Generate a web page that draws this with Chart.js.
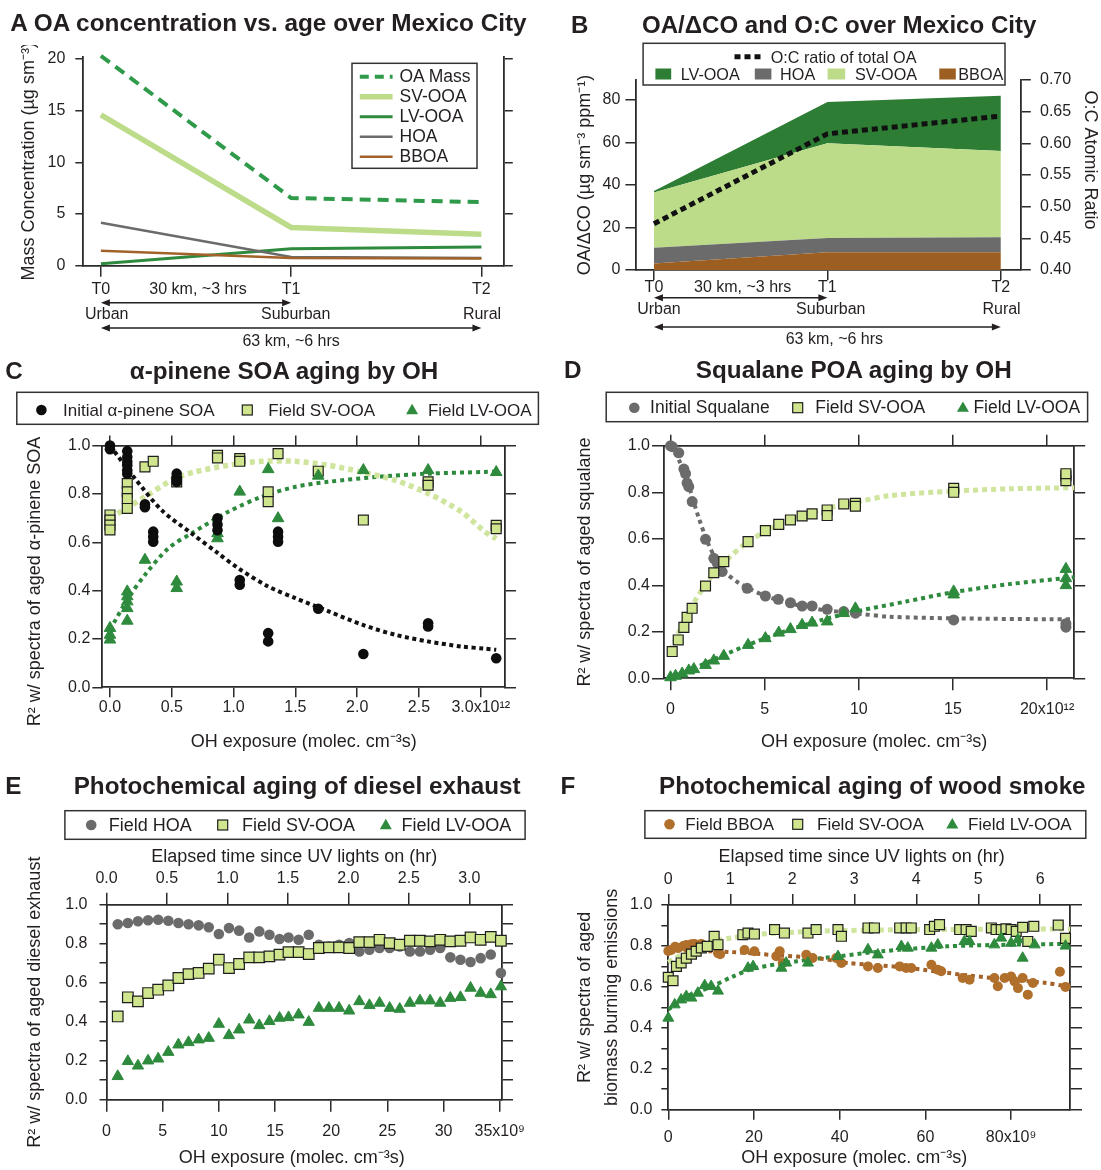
<!DOCTYPE html>
<html>
<head>
<meta charset="utf-8">
<title>Aging of organic aerosol</title>
<script src="https://cdn.jsdelivr.net/npm/chart.js@4.4.1/dist/chart.umd.min.js"></script>
<style>
  html, body { margin: 0; padding: 0; background: #ffffff; }
  #page { position: relative; width: 1101px; height: 1170px; overflow: hidden; background: #ffffff;
          font-family: 'Liberation Sans', Arial, Helvetica, sans-serif; color: #231f20; }
  #page canvas { position: absolute; z-index: 1; }
  #marks { position: absolute; left: 0; top: 0; z-index: 2; }
  .t { position: absolute; white-space: pre; line-height: 1; z-index: 3; }
</style>
</head>
<body>
<div id="page"></div>
<script>
// ---------- A: OA concentration vs. age ----------
const stations = ['T0', 'T1', 'T2'];
const stationX = [0, 1, 2];
const aOAMass = [20.3, 6.55, 6.15];
const aSVOOA = [14.6, 3.7, 3.05];
const aLVOOA = [0.2, 1.65, 1.8];
const aHOA = [4.15, 0.85, 0.75];
const aBBOA = [1.45, 0.75, 0.7];
const aTicksY = [0, 5, 10, 15, 20];

// ---------- B: OA/dCO stacked + O:C ----------
const bBBOA = [3.1, 8.3, 8.4];
const bHOA = [7.4, 6.7, 7.0];
const bSVOOA = [26, 44.6, 40.6];
const bLVOOA = [0.7, 19.4, 26];
const bOC = [0.473, 0.615, 0.643];
const bTicksY = [0, 20, 40, 60, 80];
const bTicksOC = [0.40, 0.45, 0.50, 0.55, 0.60, 0.65, 0.70];

// ---------- C: alpha-pinene SOA aging ----------
const cPinene = [[0, 1.0], [0, 0.985], [0.14, 0.977], [0.14, 0.953], [0.14, 0.933], [0.14, 0.919], [0.14, 0.898], [0.14, 0.884],
  [0.283, 0.757], [0.283, 0.745], [0.35, 0.644], [0.35, 0.623], [0.35, 0.602], [0.54, 0.884], [0.54, 0.867], [0.54, 0.85],
  [0.87, 0.699], [0.87, 0.674], [0.87, 0.65], [1.05, 0.444], [1.05, 0.424], [1.28, 0.224], [1.28, 0.19],
  [1.36, 0.644], [1.36, 0.623], [1.36, 0.602], [1.685, 0.325], [2.05, 0.138], [2.574, 0.265], [2.574, 0.252], [3.125, 0.12]];
const cSV = [[0, 0.713], [0, 0.692], [0, 0.671], [0, 0.651], [0.14, 0.843], [0.14, 0.809], [0.14, 0.781], [0.14, 0.74],
  [0.283, 0.912], [0.35, 0.935], [0.54, 0.85], [0.87, 0.96], [0.87, 0.949], [1.05, 0.946], [1.05, 0.935],
  [1.28, 0.809], [1.28, 0.768], [1.36, 0.967], [1.685, 0.894], [2.05, 0.692], [2.574, 0.85], [2.574, 0.836],
  [3.125, 0.67], [3.125, 0.656]];
const cLV = [[0, 0.245], [0, 0.217], [0, 0.197], [0.14, 0.396], [0.14, 0.376], [0.14, 0.355], [0.14, 0.327], [0.14, 0.275],
  [0.283, 0.527], [0.54, 0.437], [0.54, 0.41], [0.87, 0.637], [0.87, 0.616], [1.05, 0.809], [1.28, 0.902],
  [1.36, 0.699], [1.685, 0.875], [2.05, 0.898], [2.574, 0.898], [3.125, 0.89]];
const cFitPinene = [[0, 1.0], [0.202, 0.864], [0.418, 0.733], [0.66, 0.637], [0.876, 0.554], [1.04, 0.492], [1.28, 0.417],
  [1.5, 0.369], [1.77, 0.314], [2.04, 0.259], [2.31, 0.217], [2.57, 0.19], [2.84, 0.169], [3.03, 0.16], [3.125, 0.155]];
const cFitSV = [[0, 0.699], [0.283, 0.788], [0.526, 0.864], [0.687, 0.891], [0.957, 0.919], [1.226, 0.935], [1.496, 0.935],
  [1.765, 0.919], [2.035, 0.891], [2.305, 0.857], [2.574, 0.802], [2.844, 0.726], [3.032, 0.644], [3.125, 0.615]];
const cFitLV = [[0, 0.238], [0.148, 0.369], [0.283, 0.465], [0.472, 0.575], [0.66, 0.637], [0.957, 0.726], [1.226, 0.788],
  [1.496, 0.829], [1.765, 0.85], [2.17, 0.871], [2.574, 0.884], [3.032, 0.891], [3.125, 0.892]];
const cTicksX = [0, 0.5, 1.0, 1.5, 2.0, 2.5, 3.0];

// ---------- D: squalane POA aging ----------
const dSqualane = [[0, 1.0], [0.09, 0.996], [0.44, 0.97], [0.71, 0.90], [0.8, 0.88], [0.88, 0.84], [0.97, 0.824], [1.15, 0.76],
  [1.86, 0.598], [2.3, 0.516], [2.48, 0.495], [2.74, 0.459], [4.07, 0.387], [5.04, 0.354], [5.72, 0.34], [6.37, 0.325],
  [6.99, 0.311], [7.52, 0.311], [8.32, 0.297], [9.2, 0.287], [9.82, 0.28], [15.04, 0.251], [21.0, 0.235], [21.0, 0.22]];
const dSV = [[0.09, 0.115], [0.41, 0.165], [0.71, 0.219], [0.88, 0.262], [1.15, 0.301], [1.86, 0.397], [2.3, 0.454],
  [2.83, 0.502], [4.12, 0.588], [5.04, 0.635], [5.75, 0.662], [6.37, 0.681], [6.99, 0.698], [7.52, 0.707],
  [8.32, 0.724], [8.32, 0.70], [9.2, 0.75], [9.82, 0.753], [9.82, 0.74], [15.04, 0.817], [15.04, 0.80],
  [21.0, 0.87], [21.0, 0.85], [21.0, 0.88]];
const dLV = [[0, 0.004], [0.27, 0.01], [0.62, 0.02], [0.97, 0.033], [1.24, 0.039], [1.86, 0.057], [2.3, 0.076], [2.83, 0.096],
  [4.12, 0.143], [5.04, 0.172], [5.75, 0.196], [6.37, 0.211], [6.99, 0.229], [7.52, 0.239], [8.32, 0.244],
  [9.2, 0.28], [9.82, 0.30], [15.04, 0.373], [15.04, 0.36], [21.0, 0.47], [21.0, 0.43], [21.0, 0.40]];
const dFitSqualane = [[0, 1.0], [0.5, 0.93], [1, 0.82], [1.5, 0.69], [2, 0.58], [2.5, 0.50], [3, 0.45], [3.63, 0.41],
  [5, 0.355], [6, 0.33], [7, 0.31], [8, 0.295], [10, 0.278], [11.6, 0.265], [15, 0.258], [20.1, 0.254], [21.44, 0.254]];
const dFitSV = [[0, 0.12], [1, 0.29], [2, 0.42], [3, 0.51], [4, 0.58], [5, 0.63], [6, 0.67], [7, 0.70], [8, 0.725],
  [10, 0.76], [11.6, 0.785], [15, 0.805], [18, 0.815], [21.44, 0.82]];
const dFitLV = [[0, 0.0], [2, 0.07], [4, 0.14], [6, 0.2], [8, 0.25], [10, 0.29], [12.5, 0.33], [15, 0.37], [18, 0.405], [21.44, 0.435]];
const dTicksX = [0, 5, 10, 15, 20];

// ---------- E: diesel exhaust ----------
const eX = [1.0, 1.9, 2.8, 3.7, 4.6, 5.5, 6.4, 7.3, 8.2, 9.1, 10.0, 10.9, 11.8, 12.7, 13.6, 14.5, 15.4, 16.2, 17.1, 18.0,
  18.9, 19.8, 20.7, 21.6, 22.5, 23.4, 24.3, 25.2, 26.1, 27.0, 27.9, 28.8, 29.7, 30.6, 31.5, 32.4, 33.3, 34.2, 35.1];
const eHOA = [0.90, 0.906, 0.915, 0.92, 0.923, 0.918, 0.906, 0.90, 0.894, 0.884, 0.85, 0.88, 0.867, 0.832, 0.863, 0.846,
  0.824, 0.832, 0.82, 0.846, 0.795, 0.786, 0.795, 0.803, 0.76, 0.769, 0.778, 0.778, 0.786, 0.76, 0.76, 0.769, 0.778,
  0.73, 0.718, 0.706, 0.726, 0.745, 0.65];
const eSV = [0.427, 0.525, 0.504, 0.547, 0.564, 0.586, 0.624, 0.644, 0.65, 0.672, 0.718, 0.675, 0.696, 0.73, 0.73, 0.735,
  0.744, 0.757, 0.757, 0.747, 0.778, 0.781, 0.781, 0.778, 0.808, 0.808, 0.82, 0.803, 0.795, 0.815, 0.815, 0.812, 0.82,
  0.812, 0.815, 0.832, 0.82, 0.835, 0.815];
const eLV = [0.12, 0.197, 0.174, 0.2, 0.21, 0.244, 0.282, 0.294, 0.308, 0.316, 0.388, 0.33, 0.359, 0.41, 0.381, 0.402,
  0.419, 0.422, 0.436, 0.398, 0.47, 0.47, 0.47, 0.456, 0.504, 0.484, 0.496, 0.47, 0.465, 0.496, 0.508, 0.508, 0.496,
  0.521, 0.525, 0.573, 0.547, 0.54, 0.58];
const eTicksX = [0, 5, 10, 15, 20, 25, 30, 35];
const eTicksHr = [0, 0.5, 1.0, 1.5, 2.0, 2.5, 3.0];

// ---------- F: wood smoke ----------
const fBBOA = [[0, 0.775], [0.7, 0.78], [1.6, 0.796], [2.3, 0.79], [3.5, 0.80], [4.2, 0.805], [5.4, 0.808], [6.1, 0.81],
  [7.7, 0.81], [11.6, 0.765], [12.1, 0.759], [17.8, 0.78], [20.1, 0.774], [25.2, 0.75], [26, 0.774], [26.7, 0.717],
  [32.2, 0.757], [33.7, 0.741], [39.2, 0.741], [40.4, 0.717], [46.6, 0.70], [48.9, 0.692], [54, 0.70], [55.5, 0.692],
  [56.7, 0.692], [61.4, 0.708], [62.9, 0.684], [63.7, 0.676], [68.7, 0.643], [70.3, 0.635], [76.1, 0.643], [76.9, 0.603],
  [78.5, 0.643], [80, 0.651], [80.8, 0.627], [81.6, 0.594], [82.7, 0.643], [83.9, 0.562], [85.1, 0.619], [91.4, 0.674], [92.7, 0.60]];
const fSV = [[0, 0.647], [1.1, 0.63], [1.9, 0.70], [3, 0.717], [4.2, 0.74], [5.4, 0.76], [6.5, 0.774], [7.7, 0.79], [9.1, 0.798],
  [10.7, 0.847], [11.6, 0.806], [17.4, 0.855], [18.6, 0.863], [20.1, 0.858], [24.8, 0.88], [27.1, 0.863], [32.6, 0.863],
  [34.5, 0.88], [39.6, 0.88], [40.4, 0.847], [46.6, 0.888], [48.1, 0.888], [54, 0.888], [55.5, 0.888], [56.7, 0.888],
  [61, 0.88], [62.1, 0.896], [63.3, 0.904], [68, 0.88], [69.5, 0.88], [70.7, 0.871], [75.4, 0.888], [76.5, 0.88],
  [77.7, 0.88], [78.8, 0.884], [80, 0.88], [81.2, 0.871], [82.7, 0.891], [83.9, 0.822], [85.3, 0.896], [91.0, 0.902], [92.7, 0.837]];
const fLV = [[0, 0.448], [1.5, 0.513], [3, 0.537], [4.2, 0.554], [5.4, 0.546], [6.9, 0.57], [8.5, 0.607], [10, 0.603],
  [11.6, 0.58], [18.6, 0.692], [19.8, 0.70], [26.4, 0.692], [27.5, 0.717], [32.6, 0.717], [39.6, 0.749], [46.6, 0.782],
  [48.9, 0.757], [54.4, 0.798], [55.9, 0.79], [61.4, 0.79], [62.9, 0.806], [69.1, 0.822], [70.3, 0.822], [76.1, 0.806],
  [77.7, 0.839], [80, 0.814], [81.6, 0.831], [82.7, 0.741], [85.5, 0.806], [92.7, 0.80]];
const fFitBBOA = [[0, 0.78], [14.7, 0.77], [25, 0.755], [35, 0.74], [41.9, 0.717], [55, 0.695], [69.9, 0.656], [80, 0.635], [87.8, 0.62], [93.75, 0.60]];
const fFitSV = [[0, 0.72], [5, 0.78], [10, 0.82], [15, 0.84], [20, 0.855], [30, 0.868], [40, 0.875], [60, 0.88], [80, 0.882], [93.75, 0.883]];
const fFitLV = [[0, 0.49], [5, 0.56], [10, 0.6], [15, 0.65], [20, 0.69], [30, 0.725], [40, 0.75], [50, 0.774], [65, 0.798], [80, 0.806], [93.75, 0.81]];
const fTicksX = [0, 20, 40, 60, 80];
const fTicksHr = [0, 1, 2, 3, 4, 5, 6];

const r2Ticks = [0, 0.2, 0.4, 0.6, 0.8, 1.0];
const r2TicksMinor = [0, 0.1, 0.2, 0.3, 0.4, 0.5, 0.6, 0.7, 0.8, 0.9, 1.0];

// ---------- styling ----------
const FONT = "'Liberation Sans', Arial, Helvetica, sans-serif";
const TXT = '#231f20';
const AXIS = '#2b2b2b';
const C_LV = '#2e8a3c';
const C_LVAREA = '#2d7d34';
const C_SV = '#bddc8a';
const C_SVPT = '#d0e68e';
const C_SVDOT = '#cfe49c';
const C_HOA = '#6b6b6b';
const C_BBOA = '#a2622a';
const C_BBPT = '#b06f2b';
const C_BBAREA = '#9d5e21';
const C_OAMASS = '#2f9a4a';

const page = document.getElementById('page');

function pts(pairs) { return pairs.map(p => ({ x: p[0], y: p[1] })); }
function zipXY(xs, ys) { return xs.map((x, i) => ({ x: x, y: ys[i] })); }
// spaces used to nudge a centred axis title along its axis
const sp = n => ' '.repeat(n);

function makeCanvas(left, top, w, h) {
  const c = document.createElement('canvas');
  c.width = w; c.height = h;
  c.style.left = left + 'px'; c.style.top = top + 'px';
  c.style.width = w + 'px'; c.style.height = h + 'px';
  page.appendChild(c);
  return c;
}

// one axis, with its size pinned so the plot frame lands where the figure has it
function axis(o) {
  return {
    type: 'linear', position: o.pos, min: o.min, max: o.max, bounds: 'data', stacked: !!o.stacked,
    afterBuildTicks: s => { s.ticks = o.ticks.map(v => ({ value: v })); },
    afterFit: s => {
      if (o.pos === 'top' || o.pos === 'bottom') s.height = o.size; else s.width = o.size;
      s.paddingTop = 0; s.paddingBottom = 0; s.paddingLeft = 0; s.paddingRight = 0;
    },
    grid: { drawOnChartArea: false, drawTicks: true, tickLength: o.tl, color: AXIS, lineWidth: 1.5 },
    border: { display: true, color: AXIS, width: 1.8 },
    ticks: {
      display: !!o.fmt, padding: o.pad || 0, color: TXT, autoSkip: false, maxRotation: 0, minRotation: 0,
      font: { family: FONT, size: 16 },
      callback: o.fmt || (() => '')
    },
    title: o.title ? {
      display: true, text: o.title, color: TXT,
      font: { family: FONT, size: 18, lineHeight: o.lh || 1.2 },
      padding: { top: o.tpad || 0, bottom: o.tpad || 0 }
    } : { display: false }
  };
}

function options(scales, padTop, extraPlugins) {
  return {
    responsive: false, animation: false, devicePixelRatio: 1, events: [],
    layout: { padding: { top: padTop || 0, left: 0, right: 0, bottom: 0 }, autoPadding: false },
    plugins: Object.assign({ legend: { display: false }, tooltip: { enabled: false } }, extraPlugins || {}),
    scales: scales
  };
}

function fit(pairs, color, width, dash) {
  return { data: pts(pairs), showLine: true, pointRadius: 0, borderColor: color, borderWidth: width,
    borderDash: dash, borderCapStyle: 'butt', tension: 0.3, order: 6, clip: false };
}
function squares(pairs, r, order) {
  return { data: pts(pairs), pointStyle: 'rect', pointRadius: r, backgroundColor: C_SVPT,
    borderColor: '#1e1e1e', borderWidth: 1.2, order: order, clip: false };
}
function triangles(pairs, r, order) {
  return { data: pts(pairs), pointStyle: 'triangle', pointRadius: r, backgroundColor: C_LV,
    borderColor: C_LV, borderWidth: 1, order: order, clip: false };
}
function circles(pairs, color, r, order) {
  return { data: pts(pairs), pointStyle: 'circle', pointRadius: r, backgroundColor: color,
    borderWidth: 0, order: order, clip: false };
}

// distance / time arrows under the T0-T1-T2 axis
function arrow(ctx, xa, xb, y) {
  const h = 9, w = 3.5;
  ctx.beginPath(); ctx.moveTo(xa + h - 1, y); ctx.lineTo(xb - h + 1, y); ctx.stroke();
  ctx.beginPath(); ctx.moveTo(xa, y); ctx.lineTo(xa + h, y - w); ctx.lineTo(xa + h, y + w); ctx.closePath(); ctx.fill();
  ctx.beginPath(); ctx.moveTo(xb, y); ctx.lineTo(xb - h, y - w); ctx.lineTo(xb - h, y + w); ctx.closePath(); ctx.fill();
}
const tripPlugin = {
  id: 'trip',
  afterDraw(chart, args, o) {
    const ctx = chart.ctx, xs = chart.scales.x;
    const p0 = xs.getPixelForValue(0), p1 = xs.getPixelForValue(1), p2 = xs.getPixelForValue(2);
    ctx.save();
    ctx.fillStyle = TXT; ctx.strokeStyle = TXT; ctx.lineWidth = 1.6;
    ctx.font = '16px ' + FONT; ctx.textAlign = 'center'; ctx.textBaseline = 'middle';
    arrow(ctx, p0, p1, o.y1);
    arrow(ctx, p0, p2, o.y2);
    ctx.fillText('30 km, ~3 hrs', (p0 + p1) / 2 + o.dShort, o.yShort);
    ctx.fillText('Urban', p0 + o.dPlace[0], o.yPlace);
    ctx.fillText('Suburban', p1 + o.dPlace[1], o.yPlace);
    ctx.fillText('Rural', p2 + o.dPlace[2], o.yPlace);
    ctx.fillText('63 km, ~6 hrs', (p0 + p2) / 2 + o.dLong, o.yLong);
    ctx.restore();
  }
};

// ---------- Panel A ----------
function lineDs(ys, color, width, dash, order) {
  return { data: zipXY(stationX, ys), showLine: true, borderColor: color, borderWidth: width,
    borderDash: dash || [], pointRadius: 0, tension: 0, order: order, clip: false };
}
new Chart(makeCanvas(0, 45, 540, 305), {
  type: 'scatter',
  data: { datasets: [
    lineDs(aBBOA, C_BBOA, 2.5, null, 1),
    lineDs(aHOA, C_HOA, 2.5, null, 2),
    lineDs(aLVOOA, C_LV, 3, null, 3),
    lineDs(aSVOOA, C_SV, 5.5, null, 4),
    lineDs(aOAMass, C_OAMASS, 4, [11, 7], 0)
  ] },
  options: options({
    x: axis({ pos: 'bottom', min: -0.0925, max: 2.1177, ticks: stationX, size: 84.3, tl: 11, pad: 3.7, fmt: v => stations[v] }),
    y: axis({ pos: 'left', min: 0, max: 20.19, ticks: aTicksY, size: 83.3, tl: 8, pad: 9.9, fmt: v => String(v),
      title: 'Mass Concentration (µg sm⁻³)', tpad: 18.2 }),
    y2: axis({ pos: 'right', min: 0, max: 20.19, ticks: aTicksY, size: 36.2, tl: 9 })
  }, 12, { trip: { y1: 257.7, y2: 283, yShort: 245, dShort: 2, yPlace: 270, dPlace: [5.8, 4.5, 0.6], yLong: 297, dLong: 0 } }),
  plugins: [tripPlugin]
});

// ---------- Panel B ----------
function area(ys, color, fill) {
  return { data: zipXY(stationX, ys), backgroundColor: color, borderColor: 'rgba(0,0,0,0)', borderWidth: 1,
    pointRadius: 0, fill: fill, tension: 0, order: 1 };
}
new Chart(makeCanvas(550, 45, 551, 305), {
  type: 'line',
  data: { datasets: [
    area(bBBOA, C_BBAREA, 'origin'),
    area(bHOA, C_HOA, '-1'),
    area(bSVOOA, C_SV, '-1'),
    area(bLVOOA, C_LVAREA, '-1'),
    { data: zipXY(stationX, bOC), yAxisID: 'y2', borderColor: '#111111', borderWidth: 5, borderDash: [6, 4],
      borderCapStyle: 'butt', pointRadius: 0, fill: false, tension: 0, order: 0 }
  ] },
  options: options({
    x: axis({ pos: 'bottom', min: -0.107, max: 2.115, ticks: stationX, size: 80, tl: 10, pad: -2, fmt: v => stations[v] }),
    y: axis({ pos: 'left', min: 0, max: 89.4, ticks: bTicksY, size: 85.4, tl: 10, pad: 5, fmt: v => String(v),
      title: 'OA/ΔCO (µg sm⁻³ ppm⁻¹)', tpad: 24.2, stacked: true }),
    y2: axis({ pos: 'right', min: 0.40, max: 0.70, ticks: bTicksOC, size: 80.2, tl: 10, pad: 9.2, fmt: v => v.toFixed(2),
      title: 'O:C Atomic Ratio' + sp(6), tpad: 0 })
  }, 35, { trip: { y1: 252.7, y2: 282, yShort: 243, dShort: 2, yPlace: 265, dPlace: [5, 3.4, 0.7], yLong: 295, dLong: 7 } }),
  plugins: [tripPlugin]
});

// ---------- Panel C ----------
new Chart(makeCanvas(0, 430, 550, 330), {
  type: 'scatter',
  data: { datasets: [
    fit(cFitPinene, '#111111', 4, [4, 3.5]),
    fit(cFitSV, C_SVDOT, 5.5, [5, 4]),
    fit(cFitLV, C_LV, 4, [4, 4]),
    squares(cSV, 7, 3), triangles(cLV, 6.7, 2), circles(cPinene, '#0d0d0d', 5.3, 1)
  ] },
  options: options({
    x: axis({ pos: 'bottom', min: -0.062, max: 3.196, ticks: cTicksX, size: 72.7, tl: 10, pad: 1.1,
      fmt: v => (v === 3 ? '3.0x10¹²' : v.toFixed(1)), title: 'OH exposure (molec. cm⁻³s)', tpad: 7.5 }),
    x2: axis({ pos: 'top', min: -0.062, max: 3.196, ticks: cTicksX, size: 15.6, tl: 10 }),
    y: axis({ pos: 'left', min: 0, max: 1, ticks: r2Ticks, size: 102.3, tl: 10, pad: 2, fmt: v => v.toFixed(1),
      title: 'R² w/ spectra of aged α-pinene SOA' + sp(6), tpad: 24.2 }),
    y2: axis({ pos: 'right', min: 0, max: 1, ticks: r2Ticks, size: 45, tl: 11 })
  })
});

// ---------- Panel D ----------
new Chart(makeCanvas(550, 430, 551, 330), {
  type: 'scatter',
  data: { datasets: [
    fit(dFitSqualane, C_HOA, 4, [4, 4]),
    fit(dFitSV, C_SVDOT, 5, [5, 4]),
    fit(dFitLV, C_LV, 4, [4, 4]),
    circles(dSqualane, C_HOA, 5.5, 4), squares(dSV, 7, 3), triangles(dLV, 6.7, 2)
  ] },
  options: options({
    x: axis({ pos: 'bottom', min: -0.345, max: 21.44, ticks: dTicksX, size: 81.7, tl: 12, pad: 10.1,
      fmt: v => (v === 20 ? '20x10¹²' : String(v)), title: sp(2) + 'OH exposure (molec. cm⁻³s)', tpad: 7.5 }),
    x2: axis({ pos: 'top', min: -0.345, max: 21.44, ticks: dTicksX, size: 15.8, tl: 11 }),
    y: axis({ pos: 'left', min: 0, max: 1, ticks: r2Ticks, size: 114, tl: 12, pad: 2, fmt: v => v.toFixed(1),
      title: 'R² w/ spectra of aged squalane', tpad: 24.2 }),
    y2: axis({ pos: 'right', min: 0, max: 1, ticks: r2Ticks, size: 26.8, tl: 11 })
  })
});

// ---------- Panel E ----------
const minorFmt = (v, i) => (i % 2 === 0 ? v.toFixed(1) : '');
new Chart(makeCanvas(0, 845, 550, 325), {
  type: 'scatter',
  data: { datasets: [
    { data: zipXY(eX, eHOA), pointStyle: 'circle', pointRadius: 5.3, backgroundColor: C_HOA, borderWidth: 0, order: 4, clip: false },
    { data: zipXY(eX, eSV), pointStyle: 'rect', pointRadius: 7.5, backgroundColor: C_SVPT, borderColor: '#1e1e1e', borderWidth: 1.2, order: 3, clip: false },
    { data: zipXY(eX, eLV), pointStyle: 'triangle', pointRadius: 6.5, backgroundColor: C_LV, borderColor: C_LV, borderWidth: 1, order: 2, clip: false }
  ] },
  options: options({
    x: axis({ pos: 'bottom', min: 0, max: 35.2, ticks: eTicksX, size: 70.3, tl: 12, pad: 10.4,
      fmt: v => (v === 35 ? '35x10⁹' : String(v)), title: 'OH exposure (molec. cm⁻³s)' + sp(5), tpad: 1.2 }),
    x2: axis({ pos: 'top', min: 0, max: 3.27, ticks: eTicksHr, size: 59.7, tl: 12, pad: 4.8,
      fmt: v => v.toFixed(1), title: 'Elapsed time since UV lights on (hr)' + sp(4), tpad: 1.5 }),
    y: axis({ pos: 'left', min: 0, max: 1, ticks: r2TicksMinor, size: 106.5, tl: 7, pad: 12, fmt: minorFmt,
      title: 'R² w/ spectra of aged diesel exhaust', tpad: 24.2 }),
    y2: axis({ pos: 'right', min: 0, max: 1, ticks: r2TicksMinor, size: 48, tl: 11 })
  })
});

// ---------- Panel F ----------
new Chart(makeCanvas(550, 845, 551, 325), {
  type: 'scatter',
  data: { datasets: [
    fit(fFitBBOA, C_BBOA, 4, [4, 4]),
    fit(fFitSV, C_SVDOT, 5, [5, 4]),
    fit(fFitLV, C_LV, 4, [4, 4]),
    circles(fBBOA, C_BBPT, 5, 4), squares(fSV, 7, 3), triangles(fLV, 6.3, 2)
  ] },
  options: options({
    x: axis({ pos: 'bottom', min: 0, max: 93.75, ticks: fTicksX, size: 60.3, tl: 10, pad: 8.7,
      fmt: v => (v === 80 ? '80x10⁹' : String(v)), title: 'OH exposure (molec. cm⁻³s)' + sp(6), tpad: 1.2 }),
    x2: axis({ pos: 'top', min: 0, max: 6.48, ticks: fTicksHr, size: 60, tl: 11, pad: 4.4,
      fmt: v => String(v), title: 'Elapsed time since UV lights on (hr)' + sp(3), tpad: 1.5 }),
    y: axis({ pos: 'left', min: 0, max: 1, ticks: r2TicksMinor, size: 118.3, tl: 7, pad: 9, fmt: minorFmt,
      title: [sp(4) + 'R² w/ spectra of aged', sp(4) + 'biomass burning emissions'], tpad: 22, lh: 27 / 18 }),
    y2: axis({ pos: 'right', min: 0, max: 1, ticks: r2TicksMinor, size: 31, tl: 12 })
  })
});

// ---------- titles, legends (overlay) ----------
const NS = 'http://www.w3.org/2000/svg';
const svg = document.createElementNS(NS, 'svg');
svg.setAttribute('id', 'marks'); svg.setAttribute('width', 1101); svg.setAttribute('height', 1170);
page.appendChild(svg);
function el(tag, attrs) {
  const e = document.createElementNS(NS, tag);
  for (const k in attrs) e.setAttribute(k, attrs[k]);
  svg.appendChild(e); return e;
}
function box(x1, y1, x2, y2) { el('rect', { x: x1, y: y1, width: x2 - x1, height: y2 - y1, fill: '#fff', stroke: '#333', 'stroke-width': 1.5 }); }
function dot(cx, cy, r, fill) { el('circle', { cx: cx, cy: cy, r: r, fill: fill }); }
function sqMark(cx, cy, s) { el('rect', { x: cx - s / 2, y: cy - s / 2, width: s, height: s, fill: C_SVPT, stroke: '#1e1e1e', 'stroke-width': 1.2 }); }
function triMark(cx, cy, w) {
  const h = w * 0.866;
  el('polygon', { points: `${cx},${cy - h * 0.6} ${cx - w / 2},${cy + h * 0.4} ${cx + w / 2},${cy + h * 0.4}`, fill: C_LV });
}
function seg(x1, x2, y, color, w, dash) {
  el('line', { x1: x1, y1: y, x2: x2, y2: y, stroke: color, 'stroke-width': w, 'stroke-dasharray': dash || 'none' });
}
function patch(x1, x2, cy, h, fill) { el('rect', { x: x1, y: cy - h / 2, width: x2 - x1, height: h, fill: fill }); }
function label(str, x, cy, fs) {
  const d = document.createElement('div');
  d.className = 't'; d.textContent = str; d.style.fontSize = fs + 'px';
  d.style.left = x + 'px'; d.style.top = (cy - 0.4885 * fs) + 'px';
  page.appendChild(d); return d;
}
function title(str, left, right, base) {
  const d = document.createElement('div');
  d.className = 't'; d.style.fontWeight = 'bold'; d.style.fontSize = '20px'; d.textContent = str;
  page.appendChild(d);
  const w = d.getBoundingClientRect().width;
  const fs = 20 * (right - left) / w;
  d.style.fontSize = fs + 'px'; d.style.left = left + 'px'; d.style.top = (base - 0.8465 * fs) + 'px';
  return fs;
}
function letter(ch, left, base, fs) {
  const d = document.createElement('div');
  d.className = 't'; d.style.fontWeight = 'bold'; d.style.fontSize = fs + 'px'; d.textContent = ch;
  d.style.left = left + 'px'; d.style.top = (base - 0.8465 * fs) + 'px';
  page.appendChild(d);
}

title('A OA concentration vs. age over Mexico City', 10.3, 526.9, 31.7);
letter('B', 571, 33, title('OA/ΔCO and O:C over Mexico City', 642, 1036.6, 33));
letter('C', 5.3, 379, title('α-pinene SOA aging by OH', 129.8, 438.4, 379));
letter('D', 564, 379, title('Squalane POA aging by OH', 695.8, 1012, 379));
letter('E', 5.3, 795, title('Photochemical aging of diesel exhaust', 73.7, 520.9, 795));
letter('F', 560.5, 795, title('Photochemical aging of wood smoke', 659, 1085.8, 795));

// A legend
box(352, 63.3, 477, 168.3);
seg(359.8, 392.6, 76.7, C_OAMASS, 4, '9 6');
seg(359.8, 392.6, 96.7, C_SV, 5.5);
seg(359.8, 392.6, 116.7, C_LV, 3);
seg(359.8, 392.6, 136.7, C_HOA, 2.5);
seg(359.8, 392.6, 156.7, C_BBOA, 2.5);
label('OA Mass', 399.5, 76.7, 17.5);
label('SV-OOA', 399.5, 96.7, 17.5);
label('LV-OOA', 399.5, 116.7, 17.5);
label('HOA', 399.5, 136.7, 17.5);
label('BBOA', 399.5, 156.7, 17.5);

// B legend
box(643.1, 43.3, 1005, 85);
seg(734.5, 764.3, 56.7, '#111111', 5, '6 4');
label('O:C ratio of total OA', 770.7, 56.7, 16.2);
patch(655.4, 671.2, 74, 11, C_LVAREA); label('LV-OOA', 680.7, 74, 16.2);
patch(754.8, 771.4, 74, 11, C_HOA); label('HOA', 780.1, 74, 16.2);
patch(827.6, 845.2, 74, 11, C_SV); label('SV-OOA', 855, 74, 16.2);
patch(939.3, 955.8, 74, 11, C_BBAREA); label('BBOA', 958.3, 74, 16.2);

// C legend
box(16.8, 392.3, 538.4, 424.3);
dot(41.4, 410, 5.3, '#0d0d0d'); label('Initial α-pinene SOA', 63.1, 410, 17);
sqMark(247.3, 410, 10); label('Field SV-OOA', 268.3, 410, 17);
triMark(412.1, 410, 12); label('Field LV-OOA', 427.9, 410, 17);

// D legend
box(606.2, 392.3, 1087.6, 421.7);
dot(634.3, 407.7, 5.3, C_HOA); label('Initial Squalane', 650.1, 407.7, 17.5);
sqMark(797.7, 407.7, 10); label('Field SV-OOA', 815.3, 407.7, 17.5);
triMark(962.9, 407.7, 12); label('Field LV-OOA', 973.4, 407.7, 17.5);

// E legend
box(64.9, 810.7, 525.1, 839.3);
dot(91.2, 825, 5.3, C_HOA); label('Field HOA', 108.7, 825, 18);
sqMark(222.7, 825, 10); label('Field SV-OOA', 242, 825, 18);
triMark(385.8, 825, 12); label('Field LV-OOA', 401.6, 825, 18);

// F legend
box(644.9, 810.7, 1085.8, 838.3);
dot(669.5, 824.3, 5.3, C_BBPT); label('Field BBOA', 685.3, 824.3, 17);
sqMark(797.7, 824.3, 10); label('Field SV-OOA', 817, 824.3, 17);
triMark(952.3, 824.3, 12); label('Field LV-OOA', 968.1, 824.3, 17);
</script>
</body>
</html>
